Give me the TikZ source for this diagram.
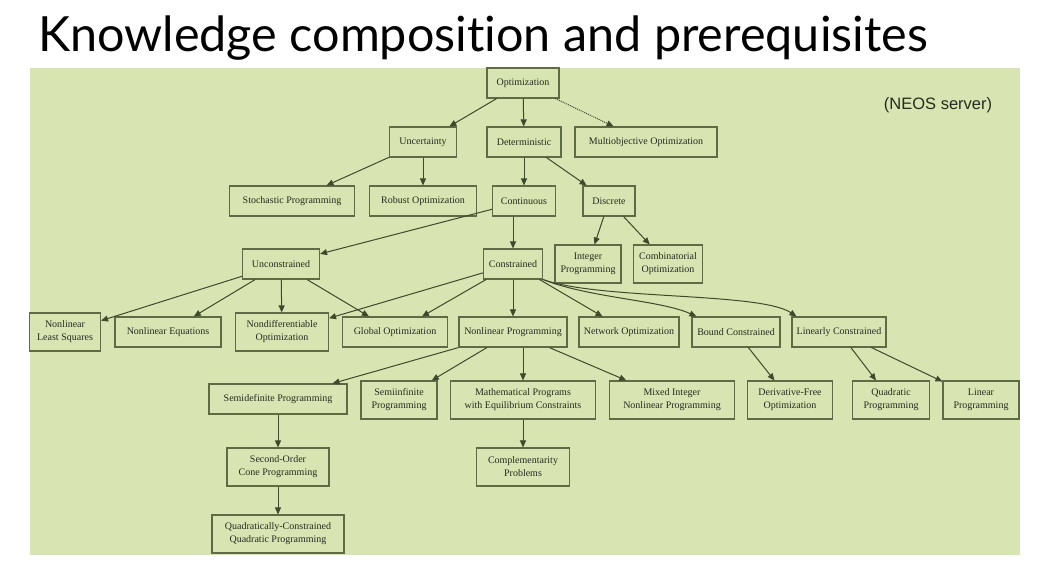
\documentclass[tikz,border=0pt]{standalone}
\usepackage{fontspec}
\setmainfont{Liberation Serif}
\newfontfamily\titlefont[Ligatures=NoCommon]{Lato}
\newfontfamily\notefont{Liberation Sans}
\usepackage{tikz}
\usetikzlibrary{arrows.meta}
\definecolor{panelbg}{HTML}{D8E4B2}
\definecolor{boxbd}{HTML}{5E6B45}
\definecolor{edgeclr}{HTML}{3F4A2C}
\definecolor{inkdark}{HTML}{262B1F}
\tikzset{
  topic/.style={draw=boxbd,line width=1.1pt,inner xsep=3pt,inner ysep=3pt,
                minimum height=30pt,align=center,text=inkdark,
                font=\fontsize{10}{13}\selectfont},
  tall/.style={minimum height=38pt},
  arrowmain/.style={-{Triangle[length=7pt,width=6pt]},line width=1pt,edgeclr},
  arrowdot/.style={arrowmain,densely dotted},
}

\begin{document}
\begin{tikzpicture}[x=1pt,y=-1pt]
  \useasboundingbox (0,0) rectangle (1054,567);
  \fill[panelbg] (30,68) rectangle (1020,555);
  \node[anchor=base west,inner sep=0pt,
        font=\titlefont\fontsize{48.5}{52}\selectfont] (title) at (38,52)
        {Knowledge composition and prerequisites};
  \node[font=\notefont\fontsize{16.5}{18}\selectfont,text=inkdark] (neos) at (938,105) {(NEOS server)};

  % levels 1--3
  \node[topic,minimum width=72] (opt) at (523,83) {Optimization};
  \node[topic,minimum width=67] (unc) at (423,142) {Uncertainty};
  \node[topic,minimum width=74] (det) at (524,142) {Deterministic};
  \node[topic,minimum width=142] (mob) at (646,142) {Multiobjective Optimization};
  \node[topic,minimum width=125] (sto) at (292,201) {Stochastic Programming};
  \node[topic,minimum width=107] (rob) at (423,201) {Robust Optimization};
  \node[topic,minimum width=63] (cnt) at (524,201) {Continuous};
  \node[topic,minimum width=52] (dsc) at (609,201) {Discrete};

  % level 4
  \node[topic,minimum width=77] (unk) at (281,264) {Unconstrained};
  \node[topic,minimum width=59] (con) at (513,264) {Constrained};
  \node[topic,tall,minimum width=66] (ip)  at (588,264) {Integer\\Programming};
  \node[topic,tall,minimum width=69] (cmb) at (668,264) {Combinatorial\\Optimization};

  % level 5
  \node[topic,tall,minimum width=71] (nls) at (65,332)  {Nonlinear\\Least Squares};
  \node[topic,minimum width=106] (neq) at (168,332) {Nonlinear Equations};
  \node[topic,tall,minimum width=93] (ndo) at (282,332) {Nondifferentiable\\Optimization};
  \node[topic,minimum width=105] (glo) at (395,332) {Global Optimization};
  \node[topic,minimum width=108] (nlp) at (513,332) {Nonlinear Programming};
  \node[topic,minimum width=100] (net) at (629,332) {Network Optimization};
  \node[topic,minimum width=88] (bnd) at (736,332) {Bound Constrained};
  \node[topic,minimum width=94] (lin) at (839,332) {Linearly Constrained};

  % level 6
  \node[topic,minimum width=138] (sdp) at (278,399) {Semidefinite Programming};
  \node[topic,tall,minimum width=76] (sip) at (399,400) {Semiinfinite\\Programming};
  \node[topic,tall,minimum width=145] (mpec) at (523,400) {Mathematical Programs\\with Equilibrium Constraints};
  \node[topic,tall,minimum width=125] (minlp) at (672,400) {Mixed Integer\\Nonlinear Programming};
  \node[topic,tall,minimum width=85] (dfo) at (790,400) {Derivative-Free\\Optimization};
  \node[topic,tall,minimum width=77] (qp)  at (891,400) {Quadratic\\Programming};
  \node[topic,tall,minimum width=76] (lp)  at (981,400) {Linear\\Programming};

  % levels 7--8
  \node[topic,tall,minimum width=102] (socp) at (278,467) {Second-Order\\Cone Programming};
  \node[topic,tall,minimum width=93] (cp)   at (523,467) {Complementarity\\Problems};
  \node[topic,tall,minimum width=132] (qcqp) at (278,534) {Quadratically-Constrained\\Quadratic Programming};

  \draw[arrowmain] (opt) -- (unc);
  \draw[arrowmain] (opt) -- (det);
  \draw[arrowdot]  (opt) -- (mob);
  \draw[arrowmain] (unc) -- (sto);
  \draw[arrowmain] (unc) -- (rob);
  \draw[arrowmain] (det) -- (cnt);
  \draw[arrowmain] (det) -- (dsc);
  \draw[arrowmain] (cnt) -- (unk);
  \draw[arrowmain] (con |- cnt.south) -- (con);
  \draw[arrowmain] (dsc) -- (ip);
  \draw[arrowmain] (dsc) -- (cmb);
  \draw[arrowmain] (unk) -- (nls);
  \draw[arrowmain] (unk) -- (neq);
  \draw[arrowmain] (unk) -- (ndo);
  \draw[arrowmain] (unk) -- (glo);
  \draw[arrowmain] (con) -- (ndo);
  \draw[arrowmain] (con) -- (glo);
  \draw[arrowmain] (con) -- (nlp);
  \draw[arrowmain] (con) -- (net);
  \draw[arrowmain] (con.south east) .. controls (590,298) and (660,300) .. ([xshift=5pt]bnd.north west);
  \draw[arrowmain] (con.south east) .. controls (600,300) and (760,292) .. ([xshift=5pt]lin.north west);
  \draw[arrowmain] (nlp) -- (sdp);
  \draw[arrowmain] (nlp) -- (sip);
  \draw[arrowmain] (mpec |- nlp.south) -- (mpec);
  \draw[arrowmain] (nlp) -- (minlp);
  \draw[arrowmain] (bnd) -- (dfo);
  \draw[arrowmain] (lin) -- (qp);
  \draw[arrowmain] (lin) -- (lp);
  \draw[arrowmain] (sdp) -- (socp);
  \draw[arrowmain] (socp) -- (qcqp);
  \draw[arrowmain] (mpec) -- (cp);
\end{tikzpicture}
\end{document}
